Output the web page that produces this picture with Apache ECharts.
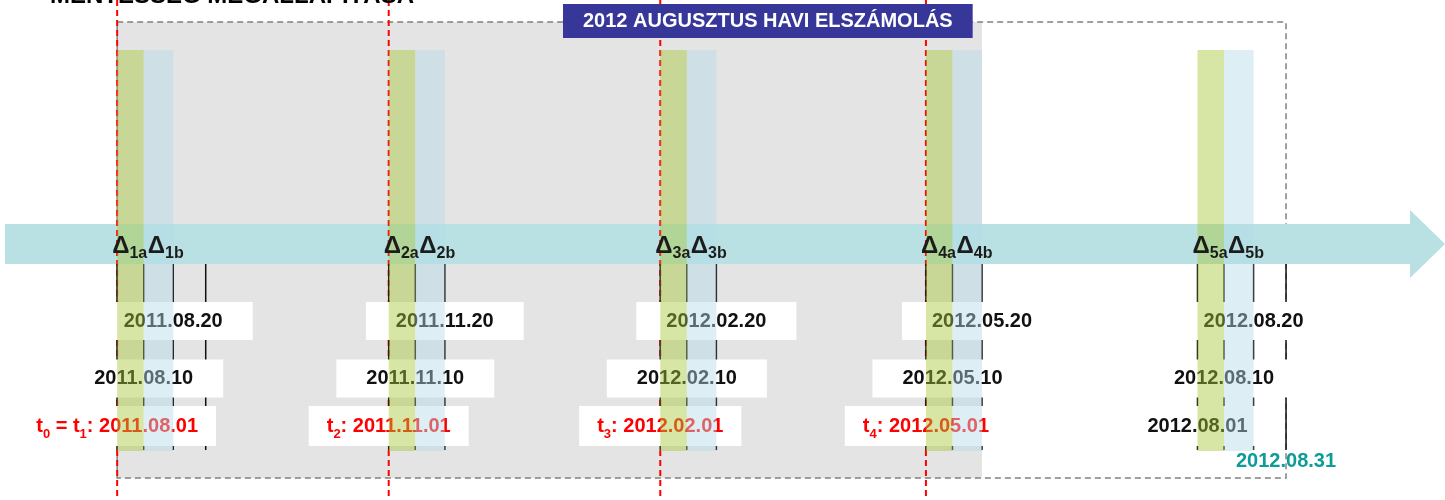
<!DOCTYPE html>
<html>
<head>
<meta charset="utf-8">
<script src="https://cdn.jsdelivr.net/npm/echarts@6/dist/echarts.min.js"></script>
<style>
  html, body { margin: 0; padding: 0; background: #fff; }
  #chart { width: 1445px; height: 500px; }
</style>
</head>
<body>
<div id="chart"></div>
<script>
// ---- data ----
const periodStarts = ['2011-08-01', '2011-11-01', '2012-02-01', '2012-05-01', '2012-08-01']
const tenthDates = ['2011-08-10', '2011-11-10', '2012-02-10', '2012-05-10', '2012-08-10']
const twentiethDates = ['2011-08-20', '2011-11-20', '2012-02-20', '2012-05-20', '2012-08-20']
const monthEndDates = ['2011-08-31', '2012-08-31']
const cutoffDates = ['2011-08-01', '2011-11-01', '2012-02-01', '2012-05-01']

const startLabels = ['t_{0} = t_{1}: 2011.08.01', 't_{2}: 2011.11.01', 't_{3}: 2012.02.01', 't_{4}: 2012.05.01', '2012.08.01']
const tenthLabels = ['2011.08.10', '2011.11.10', '2012.02.10', '2012.05.10', '2012.08.10']
const twentiethLabels = ['2011.08.20', '2011.11.20', '2012.02.20', '2012.05.20', '2012.08.20']
const deltaALabels = ['Δ_{1a}', 'Δ_{2a}', 'Δ_{3a}', 'Δ_{4a}', 'Δ_{5a}']
const deltaBLabels = ['Δ_{1b}', 'Δ_{2b}', 'Δ_{3b}', 'Δ_{4b}', 'Δ_{5b}']

const settlementStart = '2011-08-01'
const settledUntil = '2012-05-20'
const settlementEnd = '2012-08-31'
const settlementEndLabel = '2012.08.31'
const headerText = '2012 AUGUSZTUS HAVI ELSZÁMOLÁS'
const pageTitle = 'MENTESSÉG MEGÁLLAPÍTÁSA'

// ---- layout (y axis runs 0..500 from the top) ----
const axisStart = '2011-06-24'
const axisEnd = '2012-10-12'
const Y = {
  frameTop: 22, frameBottom: 478,
  bandTop: 50, bandBottom: 451,
  delta: 246,
  tickTop: 264, tickBottom: 450,
  row20: 321, row10: 378.5, row01: 426,
  endLabel: 461
}
const FONT = '"Liberation Sans", Arial, sans-serif'
const RED = '#ff0000'

const ts = (s) => new Date(s + 'T00:00:00').getTime()

// 'Δ_{1a}' -> rich text with a subscript
const toRich = (s) =>
  ('{m|' + s.replace(/_\{([^}]*)\}/g, '}{s|$1}{m|') + '}').replace(/\{m\|\}/g, '')

const chart = echarts.init(document.getElementById('chart'))

function bandSeries(name, from, to, color) {
  return {
    type: 'custom',
    name,
    z: 4,
    silent: true,
    data: from.map((d, i) => [ts(d), ts(to[i])]),
    encode: { x: [0, 1] },
    renderItem: (params, api) => {
      const a = api.coord([api.value(0), Y.bandTop])
      const b = api.coord([api.value(1), Y.bandBottom])
      return {
        type: 'rect',
        shape: { x: a[0], y: a[1], width: b[0] - a[0], height: b[1] - a[1] },
        style: { fill: color }
      }
    }
  }
}

function labelSeries(name, dates, texts, y, opts) {
  return {
    type: 'scatter',
    name,
    z: opts.z || 3,
    silent: true,
    symbolSize: 1,
    itemStyle: { color: 'transparent', opacity: 1 },
    data: dates.map((d, i) => ({
      value: [ts(d), y],
      label: { formatter: toRich(texts[i]), color: opts.colorOf ? opts.colorOf(d) : opts.color }
    })),
    label: {
      show: true,
      opacity: 1,
      position: 'inside',
      align: opts.align || 'center',
      verticalAlign: 'middle',
      offset: opts.offset || [0, 0],
      fontFamily: FONT,
      fontWeight: 'bold',
      backgroundColor: opts.box ? '#ffffff' : 'transparent',
      padding: opts.padding || 0,
      rich: opts.rich
    }
  }
}

const dateRich = {
  m: { fontFamily: FONT, fontSize: 20, fontWeight: 'bold', lineHeight: 20 }
}
const startRich = {
  m: { fontFamily: FONT, fontSize: 20, fontWeight: 'bold', lineHeight: 29 },
  s: { fontFamily: FONT, fontSize: 13, fontWeight: 'bold', lineHeight: 13, padding: [16, 0, 0, 0] }
}
const deltaRich = {
  m: { fontFamily: FONT, fontSize: 24, fontWeight: 'bold', lineHeight: 30 },
  s: { fontFamily: FONT, fontSize: 16, fontWeight: 'bold', lineHeight: 16, padding: [16, 0, 0, 0] }
}

const option = {
  animation: false,
  backgroundColor: '#ffffff',
  title: [
    {
      text: pageTitle,
      left: 45,
      top: -21,
      z: 10,
      textStyle: { fontFamily: FONT, fontSize: 24, fontWeight: 'bold', color: '#000', lineHeight: 24 }
    },
    {
      text: headerText,
      left: 563,
      top: 4,
      z: 10,
      backgroundColor: '#37379a',
      padding: [7, 20],
      textStyle: { fontFamily: FONT, fontSize: 20, fontWeight: 'bold', color: '#ffffff', lineHeight: 20 }
    }
  ],
  grid: { left: 5, right: 35, top: 0, bottom: 0 },
  xAxis: {
    type: 'time',
    min: ts(axisStart),
    max: ts(axisEnd),
    offset: -256,
    z: 1,
    axisLine: {
      show: true,
      onZero: false,
      symbol: ['none', 'triangle'],
      symbolSize: [68, 35],
      symbolOffset: [0, 17.5],
      lineStyle: { color: '#b9e0e3', width: 40, cap: 'butt' }
    },
    axisTick: { show: false },
    axisLabel: { show: false },
    splitLine: { show: false }
  },
  yAxis: { type: 'value', min: 0, max: 500, inverse: true, show: false },
  series: [
    // settlement frame: grey shaded part and dashed outline
    {
      type: 'custom',
      name: 'frame',
      z: 0,
      silent: true,
      data: [[ts(settlementStart), ts(settledUntil), ts(settlementEnd)]],
      encode: { x: [0, 1, 2] },
      renderItem: (params, api) => {
        const a = api.coord([api.value(0), Y.frameTop])
        const b = api.coord([api.value(1), Y.frameBottom])
        const c = api.coord([api.value(2), Y.frameBottom])
        return {
          type: 'group',
          children: [
            {
              type: 'rect',
              shape: { x: a[0], y: a[1], width: b[0] - a[0], height: b[1] - a[1] },
              style: { fill: '#e4e4e4' }
            },
            {
              type: 'rect',
              shape: { x: a[0], y: a[1], width: c[0] - a[0], height: c[1] - a[1] },
              style: { fill: 'none', stroke: '#808080', lineWidth: 1.5, lineDash: [6, 4] }
            }
          ]
        }
      }
    },
    // red cut-off lines
    {
      type: 'custom',
      name: 'cutoffs',
      z: 2,
      silent: true,
      data: cutoffDates.map((d) => [ts(d), 0]),
      encode: { x: 0, y: 1 },
      renderItem: (params, api) => {
        const a = api.coord([api.value(0), 0])
        const b = api.coord([api.value(0), 500])
        return {
          type: 'line',
          shape: { x1: a[0], y1: a[1], x2: b[0], y2: b[1] },
          style: { stroke: RED, lineWidth: 2, lineDash: [6, 4] }
        }
      }
    },
    // black ticks under the arrow
    {
      type: 'custom',
      name: 'ticks',
      z: 2,
      silent: true,
      data: [...periodStarts, ...tenthDates, ...twentiethDates, ...monthEndDates].map((d) => [ts(d), 0]),
      encode: { x: 0, y: 1 },
      renderItem: (params, api) => {
        const a = api.coord([api.value(0), Y.tickTop])
        const b = api.coord([api.value(0), Y.tickBottom])
        return {
          type: 'line',
          shape: { x1: a[0], y1: a[1], x2: b[0], y2: b[1] },
          style: { stroke: '#111', lineWidth: 1.5 }
        }
      }
    },
    labelSeries('day20', twentiethDates, twentiethLabels, Y.row20, {
      color: '#111', box: true, padding: [9, 30], rich: dateRich
    }),
    labelSeries('day10', tenthDates, tenthLabels, Y.row10, {
      color: '#111', box: true, padding: [9, 30], rich: dateRich
    }),
    labelSeries('day01', periodStarts, startLabels, Y.row01, {
      colorOf: (d) => (cutoffDates.includes(d) ? RED : '#111'),
      box: true, padding: [5.5, 18], rich: startRich
    }),
    bandSeries('Δa', periodStarts, tenthDates, 'rgba(168, 200, 55, 0.45)'),
    bandSeries('Δb', tenthDates, twentiethDates, 'rgba(180, 220, 230, 0.45)'),
    labelSeries('deltaA', periodStarts, deltaALabels, Y.delta, {
      z: 6, color: '#1c1c1c', align: 'left', offset: [-5, 0], rich: deltaRich
    }),
    labelSeries('deltaB', tenthDates, deltaBLabels, Y.delta, {
      z: 6, color: '#1c1c1c', align: 'left', offset: [4, 0], rich: deltaRich
    }),
    labelSeries('end', [settlementEnd], [settlementEndLabel], Y.endLabel, {
      z: 6, color: '#0e9c98', rich: dateRich
    })
  ]
}

chart.setOption(option)
window.addEventListener('resize', () => chart.resize())
</script>
</body>
</html>
